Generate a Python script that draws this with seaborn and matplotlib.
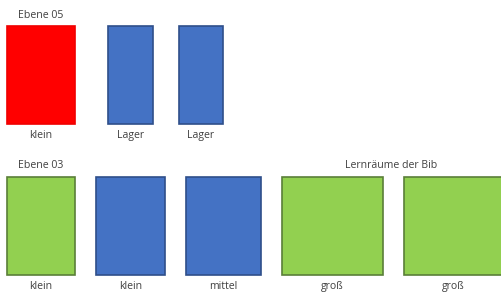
import matplotlib.pyplot as plt
import seaborn as sns

sns.set_theme(style="white")
plt.rcParams['font.family'] = ['Open Sans', 'DejaVu Sans']

# rooms per level: label, type, left edge, width (pixel layout units)
top_labels = ["klein", "Lager", "Lager"]
top_kinds = ["lern", "lager", "lager"]
top_left = [7, 108, 179]
top_width = [68, 45, 44]

bottom_labels = ["klein", "klein", "mittel", "groß", "groß"]
bottom_kinds = ["gruppe", "lager", "lager", "gruppe", "gruppe"]
bottom_left = [7, 96, 186, 282, 404]
bottom_width = [68, 69, 75, 101, 98]

row_top = [26, 177]
row_height = [98, 98]
row_titles = ["Ebene 05", "Ebene 03"]

fills = {"lern": "#FF0000", "lager": "#4472C4", "gruppe": "#92D050"}
edges = {"lern": "#F00000", "lager": "#2F4F8A", "gruppe": "#5A7F38"}
text_col = "#404040"

fig = plt.figure(figsize=(5.02, 2.95), dpi=100)
ax = fig.add_axes([0, 0, 1, 1])
ax.set_xlim(0, 502)
ax.set_ylim(295, 0)
ax.axis("off")

rows = [(top_labels, top_kinds, top_left, top_width),
        (bottom_labels, bottom_kinds, bottom_left, bottom_width)]
for r, (labels, kinds, lefts, widths) in enumerate(rows):
    y0 = row_top[r]
    h = row_height[r]
    ax.bar(lefts, [h] * len(lefts), width=widths, bottom=y0, align="edge",
           color=[fills[k] for k in kinds], edgecolor=[edges[k] for k in kinds],
           linewidth=1.2)
    for lab, x, w in zip(labels, lefts, widths):
        ax.text(x + w / 2, y0 + h + 11.5, lab, ha="center", va="center",
                fontsize=7.6, color=text_col)
    ax.text(41, y0 - 11, row_titles[r], ha="center", va="center",
            fontsize=7.6, color=text_col)

ax.text(391, 165, "Lernräume der Bib", ha="center", va="center",
        fontsize=7.6, color=text_col)

fig.savefig("out.png", dpi=100)
